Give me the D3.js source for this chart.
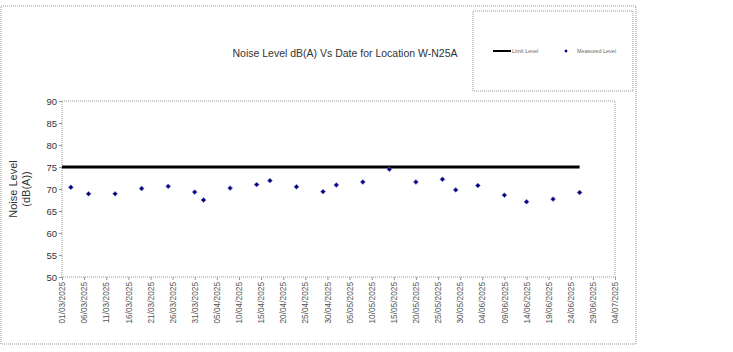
<!DOCTYPE html>
<html>
<head>
<meta charset="utf-8">
<script src="https://cdn.jsdelivr.net/npm/d3@7"></script>
<style>
  body { margin: 0; background: #fff; }
  svg { display: block; font-family: Arial, "Liberation Sans", sans-serif; }
</style>
</head>
<body>
<svg id="chart" width="733" height="352"></svg>
<script>
// measured dates and levels, dB(A)
var dates = ["03/03/2025", "07/03/2025", "13/03/2025", "19/03/2025", "25/03/2025", "31/03/2025",
  "02/04/2025", "08/04/2025", "14/04/2025", "17/04/2025", "23/04/2025", "29/04/2025",
  "02/05/2025", "08/05/2025", "14/05/2025", "20/05/2025", "26/05/2025", "29/05/2025",
  "03/06/2025", "09/06/2025", "14/06/2025", "20/06/2025", "26/06/2025"];
var measured = [70.4, 68.9, 68.9, 70.1, 70.6, 69.3, 67.5, 70.2, 71.0, 71.9, 70.5, 69.4,
  70.9, 71.6, 74.5, 71.6, 72.2, 69.8, 70.8, 68.6, 67.1, 67.7, 69.2];
var limitDates = ["01/03/2025", "26/06/2025"];
var limitLevel = [75, 75];
var xTickLabels = ["01/03/2025", "06/03/2025", "11/03/2025", "16/03/2025", "21/03/2025", "26/03/2025",
  "31/03/2025", "05/04/2025", "10/04/2025", "15/04/2025", "20/04/2025", "25/04/2025", "30/04/2025",
  "05/05/2025", "10/05/2025", "15/05/2025", "20/05/2025", "25/05/2025", "30/05/2025",
  "04/06/2025", "09/06/2025", "14/06/2025", "19/06/2025", "24/06/2025", "29/06/2025", "04/07/2025"];
var yTicks = [50, 55, 60, 65, 70, 75, 80, 85, 90];

var parse = d3.utcParse("%d/%m/%Y");
var fmt = d3.utcFormat("%d/%m/%Y");

var svg = d3.select("#chart"),
    margin = { top: 101, left: 62, right: 118, bottom: 75 },
    iwidth = +svg.attr("width") - margin.left - margin.right,
    iheight = +svg.attr("height") - margin.top - margin.bottom;

// outer chart frame
svg.append("rect").attr("x", 1).attr("y", 6).attr("width", 635).attr("height", 338)
  .attr("fill", "none").attr("stroke", "#999").attr("stroke-dasharray", "1,1");

var xTicks = xTickLabels.map(parse);
var x = d3.scaleUtc().domain(d3.extent(xTicks)).range([0, iwidth]);
var y = d3.scaleLinear().domain([50, 90]).range([iheight, 0]);

var g = svg.append("g").attr("transform", "translate(" + margin.left + "," + margin.top + ")");

g.append("rect").attr("width", iwidth).attr("height", iheight)
  .attr("fill", "none").attr("stroke", "#999").attr("stroke-dasharray", "1,1");

// y axis
var yAxis = g.append("g").call(d3.axisLeft(y).tickValues(yTicks).tickSize(3).tickPadding(2));
yAxis.select(".domain").remove();
yAxis.selectAll("line").attr("stroke", "#999");
yAxis.selectAll("text").attr("font-size", 9.5).attr("fill", "#333").attr("font-family", "Arial");

// x axis
var xAxis = g.append("g").attr("transform", "translate(0," + iheight + ")")
  .call(d3.axisBottom(x).tickValues(xTicks).tickFormat(fmt).tickSize(3));
xAxis.select(".domain").remove();
xAxis.selectAll("line").attr("stroke", "#999");
xAxis.selectAll("text")
  .attr("font-size", 8.3).attr("fill", "#555").attr("font-family", "Arial")
  .attr("text-anchor", "end").attr("transform", "rotate(-90)")
  .attr("x", -5).attr("y", 0).attr("dy", "0.32em");

// limit line
var line = d3.line().x(function (d) { return x(parse(d[0])); }).y(function (d) { return y(d[1]); });
g.append("path").datum(d3.zip(limitDates, limitLevel))
  .attr("fill", "none").attr("stroke", "#000").attr("stroke-width", 3).attr("d", line);

// measured points
var marker = d3.symbol().type(d3.symbolSquare).size(12);
g.selectAll(".pt").data(d3.zip(dates, measured)).enter().append("path")
  .attr("class", "pt")
  .attr("transform", function (d) { return "translate(" + x(parse(d[0])) + "," + y(d[1]) + ") rotate(45)"; })
  .attr("d", marker).attr("fill", "#000080").attr("stroke", "#7777bb").attr("stroke-width", 0.6);

// title
svg.append("text").attr("x", 345).attr("y", 57).attr("text-anchor", "middle")
  .attr("font-size", 10.5).attr("fill", "#333").text("Noise Level dB(A) Vs Date for Location W-N25A");

// y axis title
var yt = svg.append("text").attr("transform", "translate(18," + (margin.top + iheight / 2) + ") rotate(-90)")
  .attr("text-anchor", "middle").attr("font-size", 11).attr("fill", "#333");
yt.append("tspan").attr("x", 0).attr("dy", "-0.1em").text("Noise Level");
yt.append("tspan").attr("x", 0).attr("dy", "1.15em").text("(dB(A))");

// legend
var lg = svg.append("g");
lg.append("rect").attr("x", 473).attr("y", 11).attr("width", 160).attr("height", 80)
  .attr("fill", "none").attr("stroke", "#999").attr("stroke-dasharray", "1,1");
lg.append("line").attr("x1", 493).attr("x2", 511).attr("y1", 51).attr("y2", 51)
  .attr("stroke", "#000").attr("stroke-width", 2);
lg.append("text").attr("x", 512).attr("y", 53).attr("font-size", 5.5).attr("fill", "#666").text("Limit Level");
lg.append("path").attr("transform", "translate(566,51) rotate(45)").attr("d", d3.symbol().type(d3.symbolSquare).size(6))
  .attr("fill", "#000080");
lg.append("text").attr("x", 577).attr("y", 53).attr("font-size", 5.5).attr("fill", "#666").text("Measured Level");
</script>
</body>
</html>
